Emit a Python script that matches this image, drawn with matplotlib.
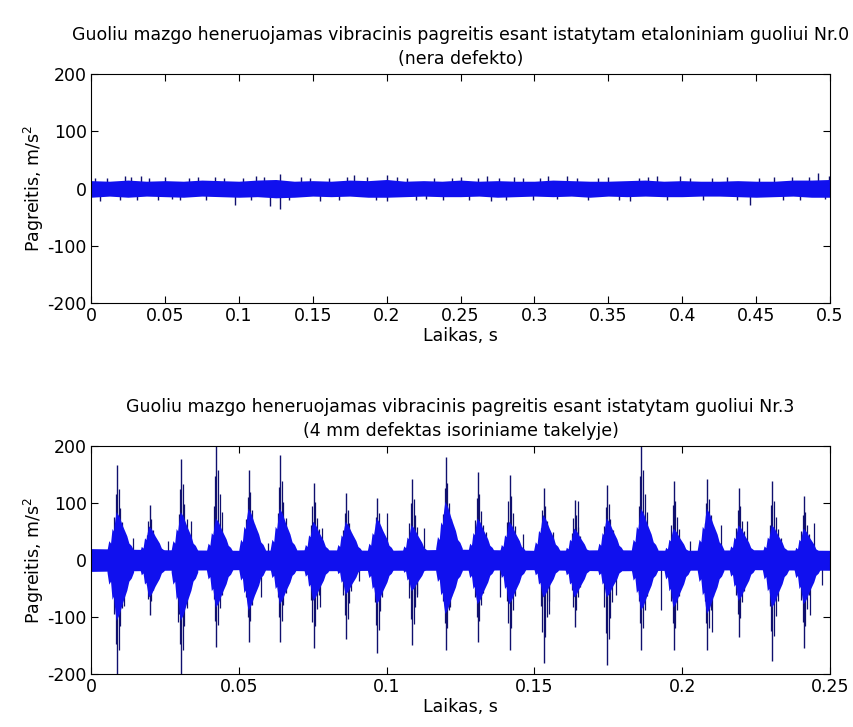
import matplotlib
matplotlib.use('Agg')
import matplotlib.pyplot as plt
import numpy as np

plt.rcParams['axes.unicode_minus'] = False

# ---------------- top panel: reference bearing Nr.0 (no defect) ----------------
top_title = 'Guoliu mazgo heneruojamas vibracinis pagreitis esant istatytam etaloniniam guoliui Nr.0\n(nera defekto)'
top_env_t = [0.0, 0.0125, 0.025, 0.0375, 0.05, 0.0625, 0.075, 0.0875, 0.1, 0.1125,
             0.125, 0.1375, 0.15, 0.1625, 0.175, 0.1875, 0.2, 0.2125, 0.225, 0.2375,
             0.25, 0.2625, 0.275, 0.2875, 0.3, 0.3125, 0.325, 0.3375, 0.35, 0.3625,
             0.375, 0.3875, 0.4, 0.4125, 0.425, 0.4375, 0.45, 0.4625, 0.475, 0.4875, 0.5]
top_env_hi = [14, 13, 15, 13, 14, 13, 15, 14, 13, 15,
              16, 13, 14, 13, 15, 14, 16, 13, 14, 13,
              15, 13, 14, 13, 13, 15, 14, 13, 13, 14,
              15, 13, 14, 13, 13, 14, 13, 13, 15, 15, 16]
top_env_lo = [-15, -13, -15, -13, -14, -15, -13, -14, -15, -14,
              -16, -15, -13, -14, -13, -15, -15, -14, -13, -14,
              -14, -13, -15, -14, -13, -14, -13, -15, -13, -14,
              -13, -14, -14, -13, -13, -14, -15, -14, -13, -15, -15]
top_spike_t = [0.003, 0.006, 0.011, 0.0194, 0.023, 0.027, 0.031, 0.034, 0.039, 0.045,
               0.05, 0.055, 0.06, 0.066, 0.0724, 0.078, 0.084, 0.09, 0.0972, 0.103,
               0.108, 0.1119, 0.117, 0.1209, 0.1277, 0.1277, 0.134, 0.142, 0.148, 0.155,
               0.161, 0.168, 0.173, 0.178, 0.1865, 0.193, 0.2005, 0.2005, 0.207, 0.214,
               0.22, 0.2264, 0.232, 0.238, 0.244, 0.2501, 0.256, 0.262, 0.2681, 0.2704,
               0.276, 0.281, 0.2862, 0.292, 0.299, 0.304, 0.309, 0.315, 0.3223, 0.329,
               0.336, 0.343, 0.35, 0.357, 0.365, 0.371, 0.377, 0.3827, 0.39, 0.3985,
               0.405, 0.4143, 0.42, 0.43, 0.437, 0.4459, 0.452, 0.462, 0.468, 0.474,
               0.48, 0.486, 0.4921, 0.4966, 0.4995]
top_spike_v = [19, -21, 18, -19, 22, 21, -19, 22, 19, -20,
               20, -18, -19, 19, 20, -19, 20, 18, -28, 19,
               -19, 22, 20, -31, 25, -35, -20, 20, 19, -21,
               19, -19, 20, 23, 20, -19, 24, -22, 20, 19,
               -19, -18, 19, -20, 18, 20, -19, 19, 22, -22,
               19, -19, 20, 18, -19, 19, 22, -18, 22, 19,
               -19, 18, 20, -19, -21, 18, 20, 22, -19, 22,
               19, -19, 18, 20, -19, -28, 19, 20, -20, 20,
               -19, 21, 27, -18, 22]

# ---------------- bottom panel: bearing Nr.3 (4 mm defect) ----------------
bot_title = 'Guoliu mazgo heneruojamas vibracinis pagreitis esant istatytam guoliui Nr.3\n(4 mm defektas isoriniame takelyje)'
base_t = [0.0, 0.025, 0.05, 0.075, 0.1, 0.125, 0.15, 0.175, 0.2, 0.225, 0.25]
base_hi = [20, 18, 17, 18, 17, 19, 17, 18, 17, 18, 17]
base_lo = [-20, -18, -17, -19, -18, -18, -17, -19, -18, -17, -18]
burst_t = [0.0088, 0.0198, 0.0305, 0.0424, 0.0534, 0.064, 0.0753, 0.0863, 0.0968, 0.1086, 0.12,
           0.1309, 0.1416, 0.1531, 0.1636, 0.1746, 0.1862, 0.1972, 0.2085, 0.2192, 0.2305, 0.2412]
burst_dense_hi = [85, 60, 85, 74, 91, 91, 68, 68, 74, 62, 103,
                  74, 68, 80, 56, 74, 91, 56, 91, 62, 62, 56]
burst_dense_lo = [-106, -65, -106, -83, -88, -77, -71, -60, -77, -54, -94,
                  -77, -77, -65, -65, -65, -88, -83, -94, -71, -83, -77]
burst_spike_hi = [166, 97, 178, 210, 158, 184, 135, 117, 109, 143, 181,
                  155, 149, 126, 106, 132, 210, 138, 143, 126, 138, 112]
burst_spike_lo = [-210, -97, -210, -152, -143, -143, -155, -138, -163, -149, -158,
                  -143, -158, -181, -117, -184, -158, -158, -158, -135, -178, -155]
extra_t = [0.0111, 0.0141, 0.026, 0.0294, 0.0339, 0.0576, 0.0599, 0.0775, 0.0781, 0.0906,
           0.1002, 0.1103, 0.1126, 0.1216, 0.1228, 0.1337, 0.1382, 0.1461, 0.1551, 0.1563,
           0.1648, 0.1766, 0.1775, 0.1927, 0.2028, 0.2102, 0.213, 0.222, 0.2333, 0.2433,
           0.2446, 0.2474]
extra_v = [-80, 39, 34, -109, 68, -65, 30, -83, 57, -36,
           82, -65, 57, -83, 42, 50, -65, 45, -94, 50,
           103, 53, -62, -88, 33, -126, 62, 68, 39, -96,
           65, -43]

fill_c = '#1010ee'
line_c = '#10106e'

# jagged burst outline (offset in s, fraction of the burst level)
shape_dt = [-0.0034, -0.0028, -0.0022, -0.0017, -0.0012, -0.0007, -0.0003, 0.0002, 0.0007,
            0.0013, 0.0019, 0.0026, 0.0033, 0.004, 0.0048, 0.0056]
shape_k = [0.2, 0.4, 0.35, 0.65, 0.6, 0.85, 1.0, 0.95, 0.9, 0.8, 0.7, 0.6, 0.5, 0.35, 0.3, 0.2]
# secondary lines inside each burst (offset in s, fraction of the main spike)
sub_dt = [-0.0009, -0.0004, 0.0005, 0.0011, 0.0018]
sub_k = [0.45, 0.7, 0.75, 0.55, 0.4]


def style_axes(ax, xmax, xstep):
    ticks = np.round(np.arange(0, xmax + 1e-9, xstep), 2)
    ax.set_ylim(-200, 200)
    ax.set_xlim(0, xmax)
    ax.set_yticks([-200, -100, 0, 100, 200])
    ax.set_xticks(ticks)
    ax.set_xticklabels(['%g' % v for v in ticks])
    ax.tick_params(direction='in', top=True, right=True, length=5, labelsize=12.5, pad=3)
    ax.set_xlabel('Laikas, s', fontsize=12.5, labelpad=1)
    ax.set_ylabel('Pagreitis, m/s$^2$', fontsize=12.5, labelpad=1)
    for s in ax.spines.values():
        s.set_linewidth(0.8)
        s.set_zorder(5)


fig = plt.figure(figsize=(8.54, 7.27), dpi=100)

ax1 = fig.add_axes([0.1066, 0.583, 0.8653, 0.315])
ax1.vlines(top_spike_t, 0, top_spike_v, color=line_c, lw=1.0, zorder=2)
ax1.fill_between(top_env_t, top_env_lo, top_env_hi, color=fill_c, lw=0, zorder=3)
style_axes(ax1, 0.5, 0.05)
ax1.set_title(top_title, fontsize=12.5, pad=7, linespacing=1.45)

ax2 = fig.add_axes([0.1066, 0.0729, 0.8653, 0.3136])
ax2.fill_between(base_t, base_lo, base_hi, color=fill_c, lw=0, zorder=3)
for t, dh, dl, sh, sl in zip(burst_t, burst_dense_hi, burst_dense_lo, burst_spike_hi, burst_spike_lo):
    xs = [t + d for d in shape_dt]
    ax2.fill_between(xs, [dl * k for k in shape_k], [dh * k for k in shape_k],
                     color=fill_c, lw=0, zorder=3)
    ax2.vlines([t + d for d in sub_dt], [sl * k for k in sub_k], [sh * k for k in sub_k],
               color=line_c, lw=0.9, zorder=2)
ax2.vlines(burst_t, burst_spike_lo, burst_spike_hi, color=line_c, lw=1.0, zorder=2)
ax2.vlines(extra_t, 0, extra_v, color=line_c, lw=0.9, zorder=2)
style_axes(ax2, 0.25, 0.05)
ax2.set_title(bot_title, fontsize=12.5, pad=7, linespacing=1.45)

fig.savefig('out.png', dpi=100)
